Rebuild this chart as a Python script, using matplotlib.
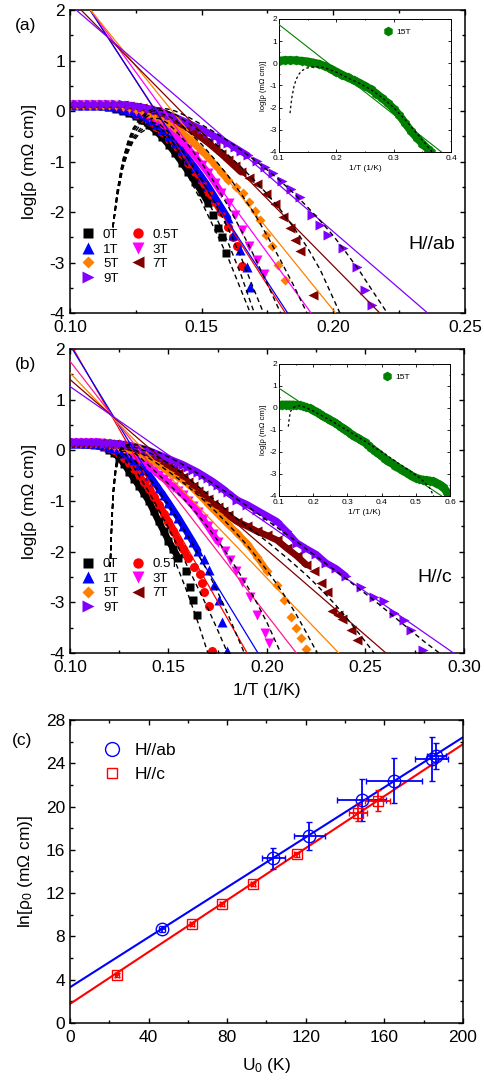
#!/usr/bin/env python3
"""Three-panel resistivity figure.

    (a) log rho vs 1/T for H//ab, with a 15T inset
    (b) log rho vs 1/T for H//c, with a 15T inset
    (c) ln rho0 vs U0 from the Arrhenius fits of (a) and (b)

The straight Arrhenius lines in (a)/(b) are drawn from the (U0, ln rho0)
values plotted in (c).  Writes out.png (485 x 1090 px).
"""
import numpy as np
import matplotlib
matplotlib.use("Agg")
import matplotlib.pyplot as plt
from matplotlib.lines import Line2D
from matplotlib.ticker import MultipleLocator, FormatStrFormatter

plt.rcParams["font.family"] = ["Liberation Sans", "DejaVu Sans"]
plt.rcParams["mathtext.fontset"] = "custom"
plt.rcParams["mathtext.rm"] = "Liberation Sans"
plt.rcParams["mathtext.it"] = "Liberation Sans:italic"
plt.rcParams["axes.unicode_minus"] = False
plt.rcParams["axes.linewidth"] = 1.1

LN10 = np.log(10.0)

FIELDS = ["0T", "0.5T", "1T", "3T", "5T", "7T", "9T"]
COLORS = {"0T": "#000000", "0.5T": "#ff0000", "1T": "#0000ff", "3T": "#ff00ff",
          "5T": "#ff8000", "7T": "#800000", "9T": "#8000ff"}
MARKERS = {"0T": "s", "0.5T": "o", "1T": "^", "3T": "v", "5T": "D", "7T": "<", "9T": ">"}
MSIZE = {"0T": 6.0, "0.5T": 6.5, "1T": 7.5, "3T": 7.5, "5T": 5.5, "7T": 7.5, "9T": 7.5}

# 1/T sample positions of the dense part of each curve (1/K)
GRID = [0.1000, 0.1025, 0.1050, 0.1075, 0.1100, 0.1125, 0.1150, 0.1175, 0.1200,
        0.1225, 0.1250, 0.1275, 0.1300, 0.1325, 0.1350, 0.1375, 0.1400, 0.1425,
        0.1450, 0.1475, 0.1500, 0.1525, 0.1550, 0.1575, 0.1600, 0.1625, 0.1650,
        0.1675, 0.1700, 0.1725, 0.1750, 0.1775, 0.1800, 0.1850, 0.1900, 0.1950,
        0.2000, 0.2050, 0.2100, 0.2150, 0.2200, 0.2250, 0.2300, 0.2350, 0.2400]
# 1/T positions used by the dashed model curves
T5 = [0.135, 0.140, 0.145, 0.150, 0.155, 0.160, 0.165, 0.170, 0.175, 0.180,
      0.185, 0.190, 0.195, 0.200, 0.205, 0.210, 0.215, 0.220, 0.225, 0.230,
      0.235, 0.240, 0.245, 0.250, 0.255, 0.260, 0.265, 0.270, 0.275, 0.280]

# ---------------- (a) H//ab : log rho on GRID, then sparse low-T points
AB_DENSE = {
    "0T": [0.12, 0.12, 0.12, 0.11, 0.11, 0.10, 0.08, 0.05, 0.01, -0.04, -0.10, -0.18,
           -0.28, -0.39, -0.52, -0.67, -0.84, -1.02, -1.21, -1.40, -1.60, -1.82],
    "0.5T": [0.12, 0.12, 0.12, 0.12, 0.11, 0.11, 0.09, 0.07, 0.04, 0.00, -0.06, -0.13,
             -0.21, -0.31, -0.42, -0.55, -0.70, -0.86, -1.03, -1.21, -1.40, -1.60,
             -1.80, -2.00],
    "1T": [0.12, 0.12, 0.12, 0.12, 0.12, 0.11, 0.10, 0.08, 0.05, 0.02, -0.03, -0.09,
           -0.17, -0.26, -0.37, -0.49, -0.63, -0.78, -0.95, -1.12, -1.30, -1.49, -1.70,
           -1.91, -2.12],
    "3T": [0.12, 0.12, 0.12, 0.12, 0.12, 0.12, 0.11, 0.10, 0.08, 0.05, 0.01, -0.04,
           -0.11, -0.19, -0.28, -0.38, -0.49, -0.61, -0.75, -0.90, -1.06, -1.23, -1.42,
           -1.62],
    "5T": [0.12, 0.12, 0.12, 0.12, 0.12, 0.12, 0.12, 0.11, 0.10, 0.08, 0.05, 0.02,
           -0.03, -0.09, -0.16, -0.24, -0.33, -0.43, -0.54, -0.66, -0.79, -0.92, -1.06,
           -1.21, -1.37],
    "7T": [0.12, 0.12, 0.12, 0.12, 0.12, 0.12, 0.12, 0.12, 0.11, 0.10, 0.08, 0.06,
           0.03, -0.01, -0.06, -0.12, -0.19, -0.27, -0.35, -0.44, -0.53, -0.63, -0.74,
           -0.85, -0.97, -1.09, -1.21],
    "9T": [0.14, 0.14, 0.14, 0.14, 0.14, 0.14, 0.14, 0.14, 0.13, 0.12, 0.10, 0.08,
           0.05, 0.02, -0.02, -0.07, -0.12, -0.18, -0.24, -0.30, -0.36, -0.43, -0.50,
           -0.57, -0.64, -0.72, -0.80, -0.88],
}
AB_TAIL_X = {
    "0T": [0.1543, 0.1562, 0.1577, 0.1592],
    "0.5T": [0.1601, 0.1618, 0.1636, 0.1652],
    "1T": [0.1620, 0.1645, 0.1671, 0.1684],
    "3T": [0.1605, 0.1627, 0.1652, 0.1680, 0.1710, 0.1735],
    "5T": [0.1630, 0.1658, 0.1680, 0.1703, 0.1722, 0.1745, 0.1766, 0.1790, 0.1815],
    "7T": [0.1680, 0.1709, 0.1745, 0.1779, 0.1810, 0.1836, 0.1855, 0.1874, 0.1923],
    "9T": [0.1710, 0.1740, 0.1771, 0.1805, 0.1840, 0.1874, 0.1919, 0.1950, 0.1980,
           0.2037, 0.2090, 0.2120, 0.2147],
}
AB_TAIL_Y = {
    "0T": [-2.06, -2.32, -2.50, -2.81],
    "0.5T": [-2.30, -2.50, -2.68, -3.07],
    "1T": [-2.45, -2.75, -3.08, -3.48],
    "3T": [-1.82, -2.05, -2.35, -2.68, -2.95, -3.22],
    "5T": [-1.50, -1.62, -1.80, -1.98, -2.15, -2.45, -2.68, -3.05, -3.35],
    "7T": [-1.33, -1.45, -1.64, -1.85, -2.10, -2.32, -2.55, -2.78, -3.64],
    "9T": [-0.98, -1.10, -1.23, -1.38, -1.55, -1.70, -2.05, -2.25, -2.46, -2.71,
           -3.08, -3.55, -3.84],
}
# dashed model curves, H//ab
AB_DASH_HEAD_X = [0.1163, 0.1180, 0.1200, 0.1220, 0.1240, 0.1265, 0.1290, 0.1315,
                  0.1340, 0.1370, 0.1400]
AB_DASH_HEAD = {
    "0T": [-2.30, -1.70, -1.15, -0.82, -0.60, -0.44, -0.36, -0.34, -0.40, -0.58, -0.84],
    "0.5T": [-2.30, -1.68, -1.12, -0.78, -0.56, -0.40, -0.31, -0.28, -0.32, -0.47, -0.70],
    "1T": [-2.30, -1.66, -1.10, -0.75, -0.52, -0.36, -0.27, -0.23, -0.26, -0.40, -0.60],
    "3T": [-2.30, -1.63, -1.06, -0.70, -0.46, -0.29, -0.19, -0.14, -0.15, -0.24, -0.38],
    "5T": [-2.30, -1.60, -1.02, -0.66, -0.41, -0.23, -0.11, -0.05, -0.04, -0.09, -0.18],
    "7T": [-2.30, -1.58, -1.00, -0.63, -0.37, -0.19, -0.06, 0.00, 0.02, -0.01, -0.07],
    "9T": [-2.30, -1.56, -0.98, -0.60, -0.34, -0.15, -0.02, 0.04, 0.06, 0.04, 0.00],
}
AB_DASH_TAIL_X = {
    "0T": T5[2:7] + [0.1685],
    "0.5T": T5[2:8],
    "1T": T5[2:8] + [0.1735],
    "3T": T5[2:10],
    "5T": T5[2:12],
    "7T": T5[2:13] + [0.2025],
    "9T": T5[2:17] + [0.2205],
}
AB_DASH_TAIL_Y = {
    "0T": [-1.30, -1.80, -2.35, -2.90, -3.55, -4.00],
    "0.5T": [-1.12, -1.55, -2.05, -2.60, -3.25, -4.00],
    "1T": [-0.96, -1.36, -1.82, -2.32, -2.90, -3.55, -4.00],
    "3T": [-0.68, -1.03, -1.43, -1.88, -2.36, -2.88, -3.43, -4.00],
    "5T": [-0.40, -0.66, -0.96, -1.28, -1.64, -2.03, -2.48, -2.96, -3.46, -4.00],
    "7T": [-0.24, -0.43, -0.64, -0.87, -1.11, -1.37, -1.65, -1.96, -2.31, -2.69,
           -3.14, -4.00],
    "9T": [-0.12, -0.27, -0.42, -0.59, -0.77, -0.97, -1.17, -1.39, -1.63, -1.89,
           -2.17, -2.47, -2.81, -3.17, -3.57, -4.00],
}

# ---------------- (b) H//c
C_DENSE = {
    "0T": [0.14, 0.14, 0.14, 0.13, 0.13, 0.12, 0.10, 0.06, 0.01, -0.06, -0.15, -0.27,
           -0.42, -0.56, -0.70, -0.85, -1.00, -1.20, -1.40, -1.59, -1.78, -1.95, -2.12],
    "0.5T": [0.14, 0.14, 0.14, 0.14, 0.13, 0.13, 0.11, 0.08, 0.05, 0.00, -0.08, -0.16,
             -0.25, -0.36, -0.48, -0.62, -0.76, -0.92, -1.08, -1.25, -1.42, -1.60,
             -1.78, -1.95, -2.12],
    "1T": [0.14, 0.14, 0.14, 0.14, 0.14, 0.13, 0.12, 0.10, 0.07, 0.04, 0.00, -0.06,
           -0.13, -0.20, -0.28, -0.38, -0.48, -0.61, -0.75, -0.89, -1.03, -1.18, -1.33,
           -1.49, -1.65, -1.81, -1.98],
    "3T": [0.14, 0.14, 0.14, 0.14, 0.14, 0.14, 0.14, 0.12, 0.10, 0.07, 0.04, 0.00,
           -0.05, -0.11, -0.17, -0.24, -0.32, -0.40, -0.48, -0.56, -0.64, -0.72, -0.80,
           -0.89, -0.99, -1.10, -1.22, -1.36, -1.50, -1.65, -1.80],
    "5T": [0.14, 0.14, 0.14, 0.14, 0.14, 0.14, 0.14, 0.14, 0.12, 0.11, 0.08, 0.05,
           0.02, -0.02, -0.06, -0.11, -0.16, -0.22, -0.28, -0.34, -0.41, -0.47, -0.53,
           -0.59, -0.66, -0.75, -0.85, -0.95, -1.05, -1.15, -1.25, -1.35, -1.45, -1.64,
           -1.84, -2.10, -2.38],
    "7T": [0.14, 0.14, 0.14, 0.14, 0.14, 0.14, 0.14, 0.13, 0.13, 0.12, 0.10, 0.08,
           0.06, 0.03, 0.00, -0.04, -0.08, -0.13, -0.18, -0.24, -0.30, -0.37, -0.45,
           -0.53, -0.62, -0.71, -0.80, -0.89, -0.97, -1.05, -1.12, -1.20, -1.28, -1.41,
           -1.50, -1.60, -1.68, -1.77, -1.93, -2.08, -2.26],
    "9T": [0.16, 0.16, 0.16, 0.16, 0.16, 0.16, 0.16, 0.15, 0.15, 0.14, 0.13, 0.12,
           0.10, 0.08, 0.06, 0.03, 0.00, -0.04, -0.08, -0.12, -0.16, -0.20, -0.24,
           -0.28, -0.33, -0.38, -0.43, -0.49, -0.55, -0.61, -0.68, -0.75, -0.83, -0.98,
           -1.07, -1.18, -1.29, -1.40, -1.60, -1.82, -1.94, -2.05, -2.22, -2.33, -2.48],
}
C_TAIL_X = {
    "0T": [0.1590, 0.1611, 0.1622, 0.1643],
    "0.5T": [0.1630, 0.1658, 0.1668, 0.1680, 0.1704, 0.1720],
    "1T": [0.1680, 0.1704, 0.1729, 0.1755, 0.1772, 0.1797],
    "3T": [0.1785, 0.1814, 0.1845, 0.1874, 0.1916, 0.1950, 0.1992, 0.2009],
    "5T": [0.2052, 0.2086, 0.2120, 0.2145, 0.2171, 0.2198],
    "7T": [0.2238, 0.2272, 0.2306, 0.2331, 0.2360, 0.2382, 0.2425, 0.2459],
    "9T": [0.2476, 0.2544, 0.2595, 0.2646, 0.2697, 0.2730, 0.2790],
}
C_TAIL_Y = {
    "0T": [-2.38, -2.69, -2.95, -3.25],
    "0.5T": [-2.30, -2.45, -2.62, -2.80, -3.07, -3.97],
    "1T": [-2.15, -2.36, -2.66, -2.95, -3.38, -3.97],
    "3T": [-1.98, -2.16, -2.38, -2.60, -2.89, -3.25, -3.61, -3.81],
    "5T": [-2.66, -2.95, -3.28, -3.50, -3.70, -3.93],
    "7T": [-2.38, -2.62, -2.80, -3.18, -3.25, -3.32, -3.55, -3.75],
    "9T": [-2.69, -2.89, -2.98, -3.22, -3.35, -3.55, -3.94],
}
C_DASH_HEAD_X = [0.1204, 0.1212, 0.1220, 0.1232, 0.1245, 0.1260, 0.1280, 0.1300]
C_DASH_HEAD = {
    "0T": [-2.30, -1.50, -0.90, -0.45, -0.20, -0.12, -0.18, -0.32],
    "0.5T": [-2.30, -1.45, -0.85, -0.40, -0.15, -0.06, -0.08, -0.18],
    "1T": [-2.30, -1.42, -0.82, -0.36, -0.11, -0.02, -0.02, -0.08],
    "3T": [-2.30, -1.41, -0.80, -0.34, -0.09, 0.02, 0.04, 0.02],
    "5T": [-2.30, -1.40, -0.79, -0.33, -0.07, 0.04, 0.07, 0.06],
    "7T": [-2.30, -1.40, -0.78, -0.32, -0.06, 0.06, 0.09, 0.09],
    "9T": [-2.30, -1.40, -0.78, -0.32, -0.06, 0.04, 0.10, 0.12],
}
C_DASH_TAIL_X = {
    "0T": T5[0:8],
    "0.5T": T5[0:10],
    "1T": T5[0:11] + [0.1885],
    "3T": T5[0:14] + [0.2070],
    "5T": T5[0:18] + [0.2255],
    "7T": T5[0:24] + [0.2544],
    "9T": T5[0:30] + [0.2875],
}
C_DASH_TAIL_Y = {
    "0T": [-0.68, -1.05, -1.45, -1.88, -2.35, -2.85, -3.40, -4.00],
    "0.5T": [-0.50, -0.82, -1.17, -1.53, -1.92, -2.32, -2.72, -3.12, -3.55, -4.00],
    "1T": [-0.30, -0.53, -0.80, -1.08, -1.38, -1.70, -2.04, -2.40, -2.80, -3.22,
           -3.68, -4.00],
    "3T": [-0.12, -0.30, -0.48, -0.66, -0.85, -1.05, -1.28, -1.52, -1.78, -2.06,
           -2.36, -2.68, -3.02, -3.40, -4.00],
    "5T": [-0.03, -0.15, -0.28, -0.42, -0.56, -0.72, -0.88, -1.06, -1.25, -1.45,
           -1.66, -1.88, -2.12, -2.37, -2.64, -2.93, -3.25, -3.60, -4.00],
    "7T": [0.04, -0.04, -0.14, -0.26, -0.40, -0.55, -0.71, -0.87, -1.03, -1.20,
           -1.36, -1.50, -1.65, -1.80, -1.96, -2.12, -2.29, -2.46, -2.65, -2.85,
           -3.06, -3.29, -3.53, -3.78, -4.00],
    "9T": [0.10, 0.04, -0.04, -0.13, -0.23, -0.34, -0.46, -0.59, -0.72, -0.84,
           -0.97, -1.10, -1.24, -1.38, -1.52, -1.66, -1.80, -1.95, -2.09, -2.24,
           -2.38, -2.53, -2.68, -2.83, -2.98, -3.14, -3.30, -3.46, -3.62, -3.78,
           -4.00],
}

# ---------------- 15T insets
INSET_AB_X = [0.10, 0.11, 0.12, 0.13, 0.14, 0.15, 0.16, 0.17, 0.18, 0.19, 0.20, 0.21,
              0.22, 0.23, 0.24, 0.25, 0.26, 0.27, 0.28, 0.29, 0.30, 0.31, 0.32, 0.33,
              0.34, 0.35, 0.36, 0.365]
INSET_AB_Y = [0.12, 0.14, 0.14, 0.13, 0.11, 0.08, 0.03, -0.03, -0.13, -0.25, -0.38,
              -0.52, -0.64, -0.76, -0.88, -1.02, -1.18, -1.37, -1.58, -1.80, -2.05,
              -2.35, -2.70, -3.05, -3.35, -3.62, -3.88, -3.98]
INSET_AB_DASH_X = [0.1192, 0.122, 0.126, 0.130, 0.135, 0.140, 0.148, 0.156, 0.165,
                   0.175, 0.185, 0.20, 0.22, 0.24, 0.26, 0.28, 0.30, 0.32, 0.34,
                   0.355, 0.367]
INSET_AB_DASH_Y = [-2.25, -1.60, -1.05, -0.72, -0.48, -0.33, -0.22, -0.17, -0.16,
                   -0.18, -0.25, -0.40, -0.66, -0.90, -1.18, -1.55, -2.00, -2.55,
                   -3.15, -3.62, -4.00]
INSET_C_X = [0.10, 0.11, 0.12, 0.13, 0.14, 0.15, 0.16, 0.17, 0.18, 0.19, 0.20, 0.21,
             0.22, 0.23, 0.24, 0.25, 0.26, 0.27, 0.28, 0.29, 0.30, 0.31, 0.32, 0.33,
             0.34, 0.35, 0.36, 0.37, 0.38, 0.39, 0.40, 0.41, 0.42, 0.43, 0.44, 0.45,
             0.46, 0.47, 0.48, 0.49, 0.50, 0.51, 0.52, 0.53, 0.54, 0.55, 0.56, 0.57,
             0.58, 0.59, 0.595]
INSET_C_Y = [0.14, 0.15, 0.15, 0.15, 0.15, 0.14, 0.12, 0.08, 0.03, -0.02,
             -0.10, -0.19, -0.28, -0.38, -0.47, -0.55, -0.64, -0.74, -0.85, -0.94,
             -1.05, -1.18, -1.28, -1.37, -1.46, -1.56, -1.70, -1.82, -1.94, -2.07,
             -2.19, -2.30, -2.42, -2.52, -2.62, -2.72, -2.82, -2.92, -3.02, -3.10,
             -3.18, -3.23, -3.26, -3.28, -3.30, -3.34, -3.40, -3.48, -3.60, -3.80,
             -3.95]
INSET_C_DASH_X = [0.1272, 0.130, 0.134, 0.140, 0.150, 0.160, 0.170, 0.18, 0.20, 0.25,
                  0.30, 0.35, 0.40, 0.45, 0.50, 0.52, 0.54, 0.552]
INSET_C_DASH_Y = [-0.85, -0.45, -0.15, 0.00, 0.08, 0.10, 0.06, 0.00, -0.14, -0.56,
                  -1.02, -1.50, -2.00, -2.52, -3.05, -3.30, -3.62, -4.00]

# ---------------- (c) Arrhenius fit parameters (same order in both lists)
FIT_FIELDS = ["15T", "9T", "7T", "5T", "3T", "1T", "0.5T"]
AB_U0 = [46.7, 103.5, 121.8, 148.4, 165.0, 184.0, 186.5]
AB_LNRHO0 = [8.69, 15.2, 17.3, 20.6, 22.4, 24.4, 24.7]
AB_U0_ERR = [1.5, 6.0, 8.0, 12.4, 14.2, 8.6, 5.0]
AB_LN_ERR = [0.3, 1.0, 1.3, 1.9, 2.1, 2.0, 1.2]
C_U0 = [23.7, 62.2, 77.5, 93.3, 115.4, 146.6, 156.7]
C_LNRHO0 = [4.43, 9.12, 10.97, 12.85, 15.59, 19.44, 20.55]
C_U0_ERR = [1.0, 1.0, 1.0, 1.0, 1.2, 4.7, 6.4]
C_LN_ERR = [0.2, 0.2, 0.2, 0.2, 0.25, 0.8, 1.0]
# linear ln rho0 = a + b U0 lines read at U0 = 0 and 200
LINE_U = [0, 200]
AB_LINE_LN = [3.3, 26.4]
C_LINE_LN = [1.76, 25.76]

GREEN = "#008000"


def style_axis(ax, size=12.5, major=3.5, minor=2.0, width=1.0, xpad=5):
    ax.tick_params(which="both", direction="in", top=True, right=True,
                   labelsize=size, width=width)
    ax.tick_params(which="major", length=major)
    ax.tick_params(which="minor", length=minor)
    ax.tick_params(axis="x", pad=xpad)


def plot_main(ax, dense, tail_x, tail_y, u0, lnrho0, head_x, head, dtail_x, dtail_y,
              line_colors, xmax):
    # dense part of each run: a thick band under the markers, as the real
    # (very closely spaced) points merge into one
    for f in FIELDS:
        n = len(dense[f])
        ax.plot(GRID[:n], dense[f], color=COLORS[f], lw=4.8, solid_capstyle="round",
                zorder=1.5)
    for f in FIELDS:
        xs = GRID[:len(dense[f])] + tail_x[f]
        ys = dense[f] + tail_y[f]
        ax.plot(xs, ys, ls="none", marker=MARKERS[f], ms=MSIZE[f], color=COLORS[f],
                mec="none", zorder=2)
    xl = np.array([0.10, 0.32])
    for f in FIELDS[1:]:
        i = FIT_FIELDS.index(f)
        ax.plot(xl, (lnrho0[i] - u0[i] * xl) / LN10, color=line_colors[f], lw=0.9,
                zorder=3)
    for f in FIELDS:
        ax.plot(head_x + dtail_x[f], head[f] + dtail_y[f], color="k", lw=1.0,
                ls=(0, (3.5, 2.5)), zorder=4)
    ax.set_xlim(0.10, xmax)
    ax.set_ylim(-4, 2)
    ax.xaxis.set_major_locator(MultipleLocator(0.05))
    ax.xaxis.set_minor_locator(MultipleLocator(0.025))
    ax.xaxis.set_major_formatter(FormatStrFormatter("%.2f"))
    ax.yaxis.set_major_locator(MultipleLocator(1))
    ax.yaxis.set_minor_locator(MultipleLocator(0.5))
    ax.set_ylabel("log[ρ (mΩ cm)]", fontsize=12.5, labelpad=9)
    style_axis(ax)

    handles = [Line2D([0], [0], ls="none", marker=MARKERS[f], ms=MSIZE[f] + 1.0,
                      color=COLORS[f], mec="none") for f in FIELDS]
    order = [0, 2, 4, 6, 1, 3, 5]
    return [handles[i] for i in order], [FIELDS[i] for i in order]


def plot_inset(ax, xs, ys, dx, dy, u0, lnrho0, xmax):
    ax.plot(xs, ys, color=GREEN, lw=5.8, solid_capstyle="round", zorder=1.5)
    ax.plot(xs, ys, ls="none", marker="h", ms=7, color=GREEN, mec="none", zorder=2)
    xl = np.array([0.10, xmax])
    ax.plot(xl, (lnrho0 - u0 * xl) / LN10, color=GREEN, lw=0.8, zorder=3)
    ax.plot(dx, dy, color="k", lw=0.9, ls=(0, (2.0, 2.0)), zorder=4)
    ax.set_xlim(0.1, xmax)
    ax.set_ylim(-4, 2)
    ax.xaxis.set_major_locator(MultipleLocator(0.1))
    ax.xaxis.set_minor_locator(MultipleLocator(0.05))
    ax.xaxis.set_major_formatter(FormatStrFormatter("%.1f"))
    ax.yaxis.set_major_locator(MultipleLocator(1))
    ax.yaxis.set_minor_locator(MultipleLocator(0.5))
    ax.set_xlabel("1/T (1/K)", fontsize=6, labelpad=2)
    ax.set_ylabel("log[ρ (mΩ cm)]", fontsize=5.5, labelpad=2)
    for s in ax.spines.values():
        s.set_linewidth(0.7)
    style_axis(ax, size=6, major=2.0, minor=1.0, width=0.6, xpad=2.5)
    ax.tick_params(axis="y", pad=1.5)
    h = Line2D([0], [0], ls="none", marker="h", ms=7, color=GREEN, mec="none")
    ax.legend([h], ["15T"], loc="upper left", bbox_to_anchor=(0.56, 0.99),
              frameon=False, fontsize=6, handletextpad=0.4, handlelength=1.2)


def main():
    fig = plt.figure(figsize=(4.85, 10.9), dpi=100)

    # ---------- (a)
    ax_a = fig.add_axes([0.1443, 0.7128, 0.8144, 0.278])
    line_a = dict(COLORS)
    h, l = plot_main(ax_a, AB_DENSE, AB_TAIL_X, AB_TAIL_Y, AB_U0, AB_LNRHO0,
                     AB_DASH_HEAD_X, AB_DASH_HEAD, AB_DASH_TAIL_X, AB_DASH_TAIL_Y,
                     line_a, 0.25)
    ax_a.legend(h, l, ncol=2, loc="lower left", bbox_to_anchor=(0.0, 0.055),
                frameon=False, fontsize=9.5, handlelength=1.0, handletextpad=0.6,
                columnspacing=1.0, labelspacing=0.17, borderaxespad=0.5)
    ax_a.text(0.915, 0.225, "H//ab", transform=ax_a.transAxes, fontsize=14,
              ha="center", va="center")

    in_a = fig.add_axes([0.5753, 0.8606, 0.3546, 0.122])
    plot_inset(in_a, INSET_AB_X, INSET_AB_Y, INSET_AB_DASH_X, INSET_AB_DASH_Y,
               AB_U0[0], AB_LNRHO0[0], 0.4)

    # ---------- (b)
    ax_b = fig.add_axes([0.1443, 0.4009, 0.8124, 0.2789])
    line_b = dict(COLORS)
    line_b["3T"] = "#ff1a8c"
    h, l = plot_main(ax_b, C_DENSE, C_TAIL_X, C_TAIL_Y, C_U0, C_LNRHO0,
                     C_DASH_HEAD_X, C_DASH_HEAD, C_DASH_TAIL_X, C_DASH_TAIL_Y,
                     line_b, 0.30)
    ax_b.set_xlabel("1/T (1/K)", fontsize=12.5, labelpad=6)
    ax_b.legend(h, l, ncol=2, loc="lower left", bbox_to_anchor=(0.0, 0.09),
                frameon=False, fontsize=9.5, handlelength=1.0, handletextpad=0.6,
                columnspacing=1.0, labelspacing=0.17, borderaxespad=0.5)
    ax_b.text(0.925, 0.247, "H//c", transform=ax_b.transAxes, fontsize=14,
              ha="center", va="center")

    in_b = fig.add_axes([0.5753, 0.545, 0.3526, 0.1211])
    plot_inset(in_b, INSET_C_X, INSET_C_Y, INSET_C_DASH_X, INSET_C_DASH_Y,
               C_U0[0], C_LNRHO0[0], 0.6)

    # ---------- (c)
    ax_c = fig.add_axes([0.1443, 0.0615, 0.8103, 0.278])
    ax_c.plot(LINE_U, AB_LINE_LN, color="#0000ff", lw=1.5, zorder=2)
    ax_c.plot(LINE_U, C_LINE_LN, color="#ff0000", lw=1.5, zorder=2)
    ax_c.errorbar(AB_U0, AB_LNRHO0, xerr=AB_U0_ERR, yerr=AB_LN_ERR, fmt="o", ms=9,
                  mfc="none", mec="#0000ff", mew=1.0, ecolor="#0000ff",
                  elinewidth=1.3, capsize=2.2, capthick=1.3, zorder=3)
    ax_c.errorbar(C_U0, C_LNRHO0, xerr=C_U0_ERR, yerr=C_LN_ERR, fmt="s", ms=6.5,
                  mfc="none", mec="#ff0000", mew=1.0, ecolor="#ff0000",
                  elinewidth=1.3, capsize=2.2, capthick=1.3, zorder=3)
    ax_c.set_xlim(0, 200)
    ax_c.set_ylim(0, 28)
    ax_c.xaxis.set_major_locator(MultipleLocator(40))
    ax_c.xaxis.set_minor_locator(MultipleLocator(20))
    ax_c.yaxis.set_major_locator(MultipleLocator(4))
    ax_c.yaxis.set_minor_locator(MultipleLocator(2))
    ax_c.set_xlabel("U$_0$ (K)", fontsize=12.5, labelpad=8)
    ax_c.set_ylabel("ln[ρ$_0$ (mΩ cm)]", fontsize=12.5, labelpad=8)
    style_axis(ax_c)
    hc = [Line2D([0], [0], ls="none", marker="o", ms=10, mfc="none", mec="#0000ff",
                 mew=1.0),
          Line2D([0], [0], ls="none", marker="s", ms=7, mfc="none", mec="#ff0000",
                 mew=1.0)]
    ax_c.legend(hc, ["H//ab", "H//c"], loc="upper left", bbox_to_anchor=(0.045, 0.977),
                frameon=False, fontsize=12.5, handlelength=1.0, handletextpad=0.8,
                labelspacing=0.55)

    fig.text(0.052, 0.977, "(a)", fontsize=12.5, ha="center", va="center")
    fig.text(0.052, 0.666, "(b)", fontsize=12.5, ha="center", va="center")
    fig.text(0.045, 0.321, "(c)", fontsize=12.5, ha="center", va="center")

    fig.savefig("out.png", dpi=100)


if __name__ == "__main__":
    main()
